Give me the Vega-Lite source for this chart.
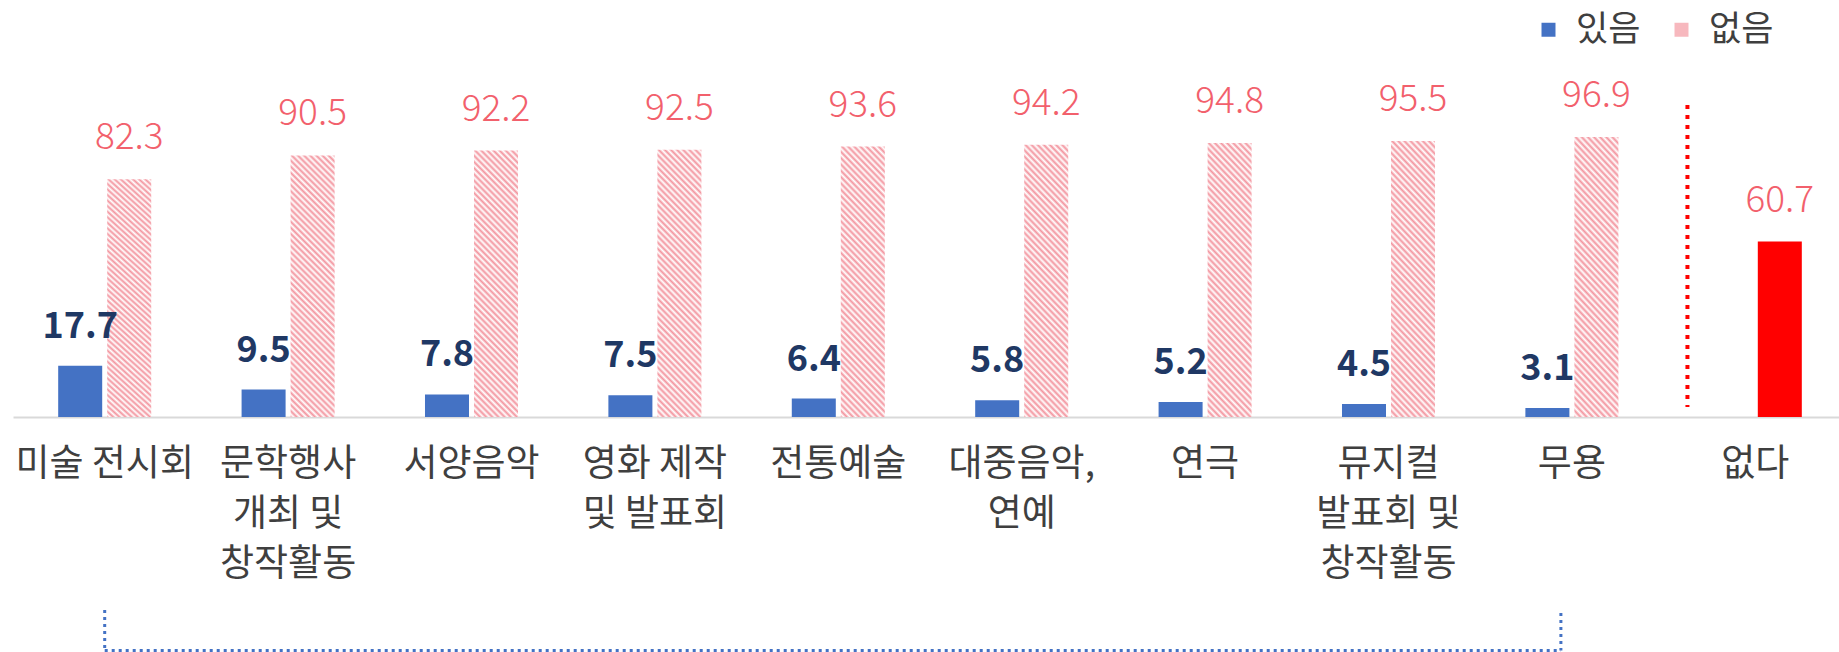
{
  "$schema": "https://vega.github.io/schema/vega-lite/v6.json",
  "width": 1826,
  "height": 417,
  "autosize": {"type": "none"},
  "padding": {"left": 13, "right": 0, "top": 0, "bottom": 235},
  "background": "white",
  "config": {"view": {"stroke": null}, "font": "Noto Sans CJK KR"},
  "datasets": {
    "bars": [
      {"category": "미술 전시회", "series": "있음", "value": 17.7},
      {"category": "미술 전시회", "series": "없음", "value": 82.3},
      {"category": "문학행사\n개최 및\n창작활동", "series": "있음", "value": 9.5},
      {"category": "문학행사\n개최 및\n창작활동", "series": "없음", "value": 90.5},
      {"category": "서양음악", "series": "있음", "value": 7.8},
      {"category": "서양음악", "series": "없음", "value": 92.2},
      {"category": "영화 제작\n및 발표회", "series": "있음", "value": 7.5},
      {"category": "영화 제작\n및 발표회", "series": "없음", "value": 92.5},
      {"category": "전통예술", "series": "있음", "value": 6.4},
      {"category": "전통예술", "series": "없음", "value": 93.6},
      {"category": "대중음악,\n연예", "series": "있음", "value": 5.8},
      {"category": "대중음악,\n연예", "series": "없음", "value": 94.2},
      {"category": "연극", "series": "있음", "value": 5.2},
      {"category": "연극", "series": "없음", "value": 94.8},
      {"category": "뮤지컬\n발표회 및\n창작활동", "series": "있음", "value": 4.5},
      {"category": "뮤지컬\n발표회 및\n창작활동", "series": "없음", "value": 95.5},
      {"category": "무용", "series": "있음", "value": 3.1},
      {"category": "무용", "series": "없음", "value": 96.9},
      {"category": "없다", "series": "없음", "value": 60.7}
    ],
    "guides": [
      {"kind": "bracket", "x": 0.5, "x2": 0.5, "y": -66.8, "y2": -80.8},
      {"kind": "bracket", "x": 0.5, "x2": 8.44, "y": -80.8, "y2": -80.8},
      {"kind": "bracket", "x": 8.44, "x2": 8.44, "y": -67.8, "y2": -80.8},
      {"kind": "divider", "x": 9.13, "x2": 9.13, "y": 108, "y2": 3.5}
    ]
  },
  "resolve": {"scale": {"x": "independent"}},
  "layer": [
    {
      "data": {"name": "bars"},
      "mark": {"type": "bar", "strokeWidth": 0},
      "encoding": {
        "x": {
          "field": "category", "type": "nominal", "sort": null,
          "scale": {"domain": ["미술 전시회", "문학행사\n개최 및\n창작활동", "서양음악", "영화 제작\n및 발표회", "전통예술", "대중음악,\n연예", "연극", "뮤지컬\n발표회 및\n창작활동", "무용", "없다"], "range": [0, 1834], "paddingInner": 0, "paddingOuter": 0},
          "axis": {
            "title": null, "ticks": false, "labelAngle": 0,
            "labelExpr": "split(datum.label, '\\n')",
            "labelFontSize": 37, "labelColor": "#3F3F3F", "labelLineHeight": 50,
            "labelPadding": 29, "labelBaseline": "top",
            "labelOverlap": false, "labelLimit": 0,
            "domainColor": "#D9D9D9", "domainWidth": 2, "grid": false
          }
        },
        "xOffset": {
          "field": "series", "type": "nominal",
          "scale": {"domain": ["있음", "없음"], "paddingInner": 0.102, "paddingOuter": 0.922}
        },
        "y": {
          "field": "value", "type": "quantitative",
          "scale": {"domain": [0, 144.3], "nice": false}, "axis": null
        },
        "fill": {
          "field": "series", "type": "nominal",
          "scale": {"domain": ["있음", "없음"], "range": ["#4472C4", "#F7B8BE"]},
          "condition": [
            {"test": "datum.category === '없다'", "value": "#FF0000"},
            {"test": "datum.series === '없음'", "value": {
              "gradient": "linear", "x1": 0, "y1": 1, "x2": 0.1908, "y2": -0.136,
              "stops": [
                {"offset": 0.00, "color": "#F3959F"}, {"offset": 0.01, "color": "#FFFFFF"},
                {"offset": 0.02, "color": "#F3959F"}, {"offset": 0.03, "color": "#FFFFFF"},
                {"offset": 0.04, "color": "#F3959F"}, {"offset": 0.05, "color": "#FFFFFF"},
                {"offset": 0.06, "color": "#F3959F"}, {"offset": 0.07, "color": "#FFFFFF"},
                {"offset": 0.08, "color": "#F3959F"}, {"offset": 0.09, "color": "#FFFFFF"},
                {"offset": 0.10, "color": "#F3959F"}, {"offset": 0.11, "color": "#FFFFFF"},
                {"offset": 0.12, "color": "#F3959F"}, {"offset": 0.13, "color": "#FFFFFF"},
                {"offset": 0.14, "color": "#F3959F"}, {"offset": 0.15, "color": "#FFFFFF"},
                {"offset": 0.16, "color": "#F3959F"}, {"offset": 0.17, "color": "#FFFFFF"},
                {"offset": 0.18, "color": "#F3959F"}, {"offset": 0.19, "color": "#FFFFFF"},
                {"offset": 0.20, "color": "#F3959F"}, {"offset": 0.21, "color": "#FFFFFF"},
                {"offset": 0.22, "color": "#F3959F"}, {"offset": 0.23, "color": "#FFFFFF"},
                {"offset": 0.24, "color": "#F3959F"}, {"offset": 0.25, "color": "#FFFFFF"},
                {"offset": 0.26, "color": "#F3959F"}, {"offset": 0.27, "color": "#FFFFFF"},
                {"offset": 0.28, "color": "#F3959F"}, {"offset": 0.29, "color": "#FFFFFF"},
                {"offset": 0.30, "color": "#F3959F"}, {"offset": 0.31, "color": "#FFFFFF"},
                {"offset": 0.32, "color": "#F3959F"}, {"offset": 0.33, "color": "#FFFFFF"},
                {"offset": 0.34, "color": "#F3959F"}, {"offset": 0.35, "color": "#FFFFFF"},
                {"offset": 0.36, "color": "#F3959F"}, {"offset": 0.37, "color": "#FFFFFF"},
                {"offset": 0.38, "color": "#F3959F"}, {"offset": 0.39, "color": "#FFFFFF"},
                {"offset": 0.40, "color": "#F3959F"}, {"offset": 0.41, "color": "#FFFFFF"},
                {"offset": 0.42, "color": "#F3959F"}, {"offset": 0.43, "color": "#FFFFFF"},
                {"offset": 0.44, "color": "#F3959F"}, {"offset": 0.45, "color": "#FFFFFF"},
                {"offset": 0.46, "color": "#F3959F"}, {"offset": 0.47, "color": "#FFFFFF"},
                {"offset": 0.48, "color": "#F3959F"}, {"offset": 0.49, "color": "#FFFFFF"},
                {"offset": 0.50, "color": "#F3959F"}, {"offset": 0.51, "color": "#FFFFFF"},
                {"offset": 0.52, "color": "#F3959F"}, {"offset": 0.53, "color": "#FFFFFF"},
                {"offset": 0.54, "color": "#F3959F"}, {"offset": 0.55, "color": "#FFFFFF"},
                {"offset": 0.56, "color": "#F3959F"}, {"offset": 0.57, "color": "#FFFFFF"},
                {"offset": 0.58, "color": "#F3959F"}, {"offset": 0.59, "color": "#FFFFFF"},
                {"offset": 0.60, "color": "#F3959F"}, {"offset": 0.61, "color": "#FFFFFF"},
                {"offset": 0.62, "color": "#F3959F"}, {"offset": 0.63, "color": "#FFFFFF"},
                {"offset": 0.64, "color": "#F3959F"}, {"offset": 0.65, "color": "#FFFFFF"},
                {"offset": 0.66, "color": "#F3959F"}, {"offset": 0.67, "color": "#FFFFFF"},
                {"offset": 0.68, "color": "#F3959F"}, {"offset": 0.69, "color": "#FFFFFF"},
                {"offset": 0.70, "color": "#F3959F"}, {"offset": 0.71, "color": "#FFFFFF"},
                {"offset": 0.72, "color": "#F3959F"}, {"offset": 0.73, "color": "#FFFFFF"},
                {"offset": 0.74, "color": "#F3959F"}, {"offset": 0.75, "color": "#FFFFFF"},
                {"offset": 0.76, "color": "#F3959F"}, {"offset": 0.77, "color": "#FFFFFF"},
                {"offset": 0.78, "color": "#F3959F"}, {"offset": 0.79, "color": "#FFFFFF"},
                {"offset": 0.80, "color": "#F3959F"}, {"offset": 0.81, "color": "#FFFFFF"},
                {"offset": 0.82, "color": "#F3959F"}, {"offset": 0.83, "color": "#FFFFFF"},
                {"offset": 0.84, "color": "#F3959F"}, {"offset": 0.85, "color": "#FFFFFF"},
                {"offset": 0.86, "color": "#F3959F"}, {"offset": 0.87, "color": "#FFFFFF"},
                {"offset": 0.88, "color": "#F3959F"}, {"offset": 0.89, "color": "#FFFFFF"},
                {"offset": 0.90, "color": "#F3959F"}, {"offset": 0.91, "color": "#FFFFFF"},
                {"offset": 0.92, "color": "#F3959F"}, {"offset": 0.93, "color": "#FFFFFF"},
                {"offset": 0.94, "color": "#F3959F"}, {"offset": 0.95, "color": "#FFFFFF"},
                {"offset": 0.96, "color": "#F3959F"}, {"offset": 0.97, "color": "#FFFFFF"},
                {"offset": 0.98, "color": "#F3959F"}, {"offset": 0.99, "color": "#FFFFFF"},
                {"offset": 1.00, "color": "#F3959F"}
              ]
            }}
          ],
          "legend": {
            "title": null, "orient": "none", "direction": "horizontal",
            "legendX": 1518, "legendY": 12,
            "symbolType": "square", "symbolSize": 196, "symbolStrokeWidth": 0,
            "labelFontSize": 35, "labelColor": "#3F3F3F", "labelOffset": 10,
            "columnPadding": 23, "padding": 0
          }
        }
      }
    },
    {
      "data": {"name": "bars"},
      "transform": [{"filter": "datum.series === '있음'"}],
      "mark": {"type": "text", "baseline": "alphabetic", "align": "center", "dy": -28, "fontSize": 36, "fontWeight": "bold", "color": "#1F3864"},
      "encoding": {
        "x": {"field": "category", "type": "nominal", "sort": null, "axis": null, "scale": {"domain": ["미술 전시회", "문학행사\n개최 및\n창작활동", "서양음악", "영화 제작\n및 발표회", "전통예술", "대중음악,\n연예", "연극", "뮤지컬\n발표회 및\n창작활동", "무용", "없다"], "range": [0, 1834], "paddingInner": 0, "paddingOuter": 0}},
        "xOffset": {"field": "series", "type": "nominal", "scale": {"domain": ["있음", "없음"], "paddingInner": 0.102, "paddingOuter": 0.922}},
        "y": {"field": "value", "type": "quantitative", "scale": {"domain": [0, 144.3], "nice": false}, "axis": null},
        "text": {"field": "value", "type": "quantitative", "format": ".1f"}
      }
    },
    {
      "data": {"name": "bars"},
      "transform": [{"filter": "datum.series === '없음'"}],
      "mark": {"type": "text", "baseline": "alphabetic", "align": "center", "dy": -30, "fontSize": 37, "fontWeight": 300, "color": "#F2606C"},
      "encoding": {
        "x": {"field": "category", "type": "nominal", "sort": null, "axis": null, "scale": {"domain": ["미술 전시회", "문학행사\n개최 및\n창작활동", "서양음악", "영화 제작\n및 발표회", "전통예술", "대중음악,\n연예", "연극", "뮤지컬\n발표회 및\n창작활동", "무용", "없다"], "range": [0, 1834], "paddingInner": 0, "paddingOuter": 0}},
        "xOffset": {"field": "series", "type": "nominal", "scale": {"domain": ["있음", "없음"], "paddingInner": 0.102, "paddingOuter": 0.922}},
        "y": {"field": "value", "type": "quantitative", "scale": {"domain": [0, 144.3], "nice": false}, "axis": null},
        "text": {"field": "value", "type": "quantitative", "format": ".1f"}
      }
    },
    {
      "data": {"name": "guides"},
      "transform": [{"filter": "datum.kind === 'bracket'"}],
      "mark": {"type": "rule", "color": "#4472C4", "strokeWidth": 3, "strokeDash": [3, 4]},
      "encoding": {
        "x": {"field": "x", "type": "quantitative", "scale": {"domain": [0, 10], "range": [0, 1834], "nice": false, "zero": false}, "axis": null},
        "x2": {"field": "x2"},
        "y": {"field": "y", "type": "quantitative", "scale": {"domain": [0, 144.3], "nice": false}, "axis": null},
        "y2": {"field": "y2"}
      }
    },
    {
      "data": {"name": "guides"},
      "transform": [{"filter": "datum.kind === 'divider'"}],
      "mark": {"type": "rule", "color": "#FF0000", "strokeWidth": 4, "strokeDash": [4, 6]},
      "encoding": {
        "x": {"field": "x", "type": "quantitative", "scale": {"domain": [0, 10], "range": [0, 1834], "nice": false, "zero": false}, "axis": null},
        "x2": {"field": "x2"},
        "y": {"field": "y", "type": "quantitative", "scale": {"domain": [0, 144.3], "nice": false}, "axis": null},
        "y2": {"field": "y2"}
      }
    }
  ]
}
